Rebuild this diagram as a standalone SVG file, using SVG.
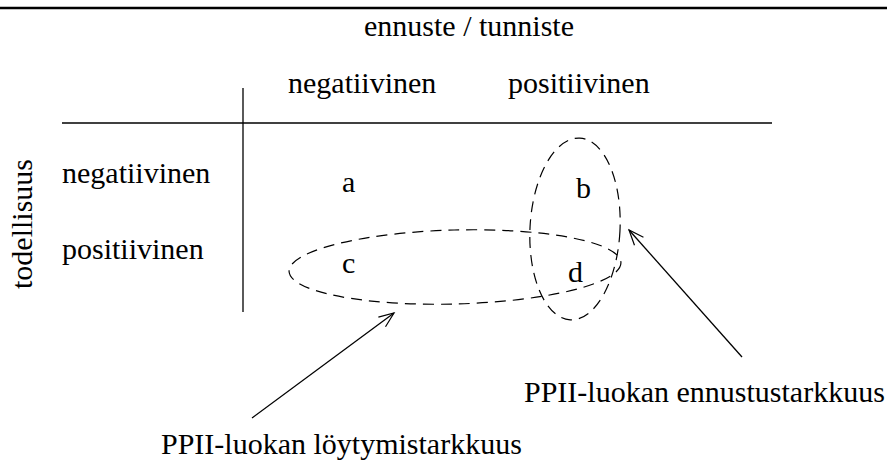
<svg xmlns="http://www.w3.org/2000/svg" width="887" height="461" viewBox="0 0 887 461">
<defs>
<style>
text{font-family:"Liberation Serif","Times New Roman",serif;font-size:30px;fill:#000}
.ln{stroke:#000;stroke-width:1.3;fill:none}
.ds{stroke:#000;stroke-width:1.2;fill:none;stroke-dasharray:11 7}
</style>
<marker id="ah" markerWidth="18" markerHeight="14" refX="16" refY="7" orient="auto" markerUnits="userSpaceOnUse">
<path d="M1,1 L16,7 L1,13" fill="none" stroke="#000" stroke-width="1.2"/>
</marker>
</defs>
<rect width="887" height="461" fill="#fff"/>
<line x1="0" y1="8" x2="887" y2="8" stroke="#000" stroke-width="2.4"/>
<g id="frame">
<line class="ln" x1="62" y1="123" x2="772" y2="123"/>
<line class="ln" x1="243" y1="88" x2="243" y2="312"/>
</g>
<g id="headers">
<text x="364" y="36">ennuste / tunniste</text>
<text x="288" y="93">negatiivinen</text>
<text x="508" y="93">positiivinen</text>
<text x="62" y="183">negatiivinen</text>
<text x="62" y="259">positiivinen</text>
<text transform="translate(32,224) rotate(-90)" text-anchor="middle">todellisuus</text>
</g>
<g id="cells">
<text x="342" y="192">a</text>
<text x="576" y="198">b</text>
<text x="342" y="273">c</text>
<text x="568" y="282">d</text>
</g>
<g id="ellipse-precision">
<ellipse class="ds" cx="575" cy="229" rx="45" ry="91" transform="rotate(3 575 229)"/>
</g>
<g id="ellipse-recall">
<ellipse class="ds" cx="455" cy="267" rx="166" ry="37" transform="rotate(-1.5 455 267)"/>
</g>
<g id="connectors">
<line class="ln" x1="252" y1="418" x2="394" y2="313" marker-end="url(#ah)"/>
<line class="ln" x1="742" y1="357" x2="629" y2="230" marker-end="url(#ah)"/>
</g>
<g id="labels">
<text x="524" y="402">PPII-luokan ennustustarkkuus</text>
<text x="161" y="454">PPII-luokan löytymistarkkuus</text>
</g>
</svg>
